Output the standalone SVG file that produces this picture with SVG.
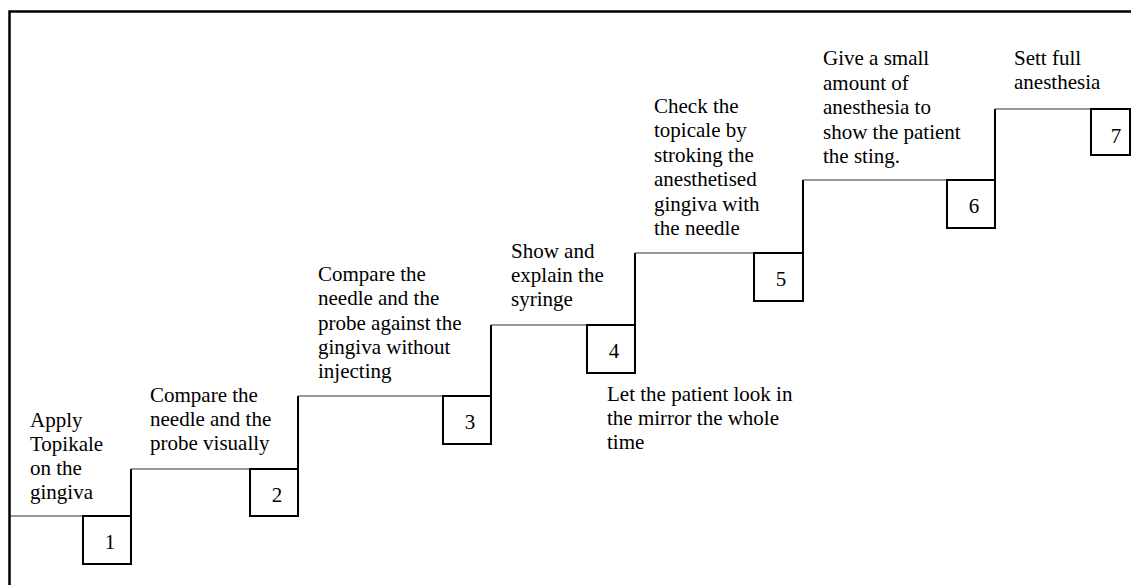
<svg xmlns="http://www.w3.org/2000/svg" width="1131" height="585" viewBox="0 0 1131 585">
<style>
text{font-family:"Liberation Serif","Times New Roman",serif;font-size:21px;fill:#000}
.num{text-anchor:middle}
.box{fill:#fff;stroke:#000;stroke-width:2}
.h{stroke:#333;stroke-width:1;fill:none}
.v{stroke:#000;stroke-width:2;fill:none}
</style>
<rect width="1131" height="585" fill="#fff"/>
<path d="M9.5 600 V11.5 H1140" fill="none" stroke="#000" stroke-width="2.5"/>
<g id="connectors">
<line class="h" x1="10" y1="516" x2="83" y2="516"/>
<line class="v" x1="131" y1="469" x2="131" y2="516"/>
<line class="h" x1="131" y1="469" x2="250" y2="469"/>
<line class="v" x1="298" y1="396" x2="298" y2="469"/>
<line class="h" x1="298" y1="396" x2="443" y2="396"/>
<line class="v" x1="491" y1="325" x2="491" y2="396"/>
<line class="h" x1="491" y1="325" x2="587" y2="325"/>
<line class="v" x1="635" y1="253" x2="635" y2="325"/>
<line class="h" x1="635" y1="253" x2="754" y2="253"/>
<line class="v" x1="803" y1="180" x2="803" y2="253"/>
<line class="h" x1="803" y1="180" x2="947" y2="180"/>
<line class="v" x1="995" y1="109" x2="995" y2="180"/>
<line class="h" x1="995" y1="109" x2="1091" y2="109"/>
</g>
<g id="step1">
<rect class="box" x="83" y="516" width="48" height="48"/>
<text class="num" x="110" y="549">1</text>
<text x="30"><tspan x="30" y="427">Apply</tspan><tspan x="30" y="451">Topikale</tspan><tspan x="30" y="475">on the</tspan><tspan x="30" y="499">gingiva</tspan></text>
</g>
<g id="step2">
<rect class="box" x="250" y="469" width="48" height="47"/>
<text class="num" x="277" y="502">2</text>
<text x="150"><tspan x="150" y="402">Compare the</tspan><tspan x="150" y="426">needle and the</tspan><tspan x="150" y="450">probe visually</tspan></text>
</g>
<g id="step3">
<rect class="box" x="443" y="396" width="48" height="48"/>
<text class="num" x="470" y="429">3</text>
<text x="318"><tspan x="318" y="281">Compare the</tspan><tspan x="318" y="305.3">needle and the</tspan><tspan x="318" y="329.6">probe against the</tspan><tspan x="318" y="353.9">gingiva without</tspan><tspan x="318" y="378.2">injecting</tspan></text>
</g>
<g id="step4">
<rect class="box" x="587" y="325" width="48" height="48"/>
<text class="num" x="614" y="358">4</text>
<text x="511"><tspan x="511" y="257.7">Show and</tspan><tspan x="511" y="282">explain the</tspan><tspan x="511" y="306.3">syringe</tspan></text>
<text x="607"><tspan x="607" y="401">Let the patient look in</tspan><tspan x="607" y="425">the mirror the whole</tspan><tspan x="607" y="449">time</tspan></text>
</g>
<g id="step5">
<rect class="box" x="754" y="253" width="49" height="48"/>
<text class="num" x="781" y="286">5</text>
<text x="654"><tspan x="654" y="113">Check the</tspan><tspan x="654" y="137.4">topicale by</tspan><tspan x="654" y="161.8">stroking the</tspan><tspan x="654" y="186.2">anesthetised</tspan><tspan x="654" y="210.6">gingiva with</tspan><tspan x="654" y="235">the needle</tspan></text>
</g>
<g id="step6">
<rect class="box" x="947" y="180" width="48" height="48"/>
<text class="num" x="974" y="213">6</text>
<text x="823"><tspan x="823" y="65">Give a small</tspan><tspan x="823" y="89.5">amount of</tspan><tspan x="823" y="114">anesthesia to</tspan><tspan x="823" y="138.5">show the patient</tspan><tspan x="823" y="163">the sting.</tspan></text>
</g>
<g id="step7">
<rect class="box" x="1091" y="109" width="39" height="46"/>
<text class="num" x="1116" y="143">7</text>
<text x="1014"><tspan x="1014" y="65">Sett full</tspan><tspan x="1014" y="89">anesthesia</tspan></text>
</g>
</svg>
